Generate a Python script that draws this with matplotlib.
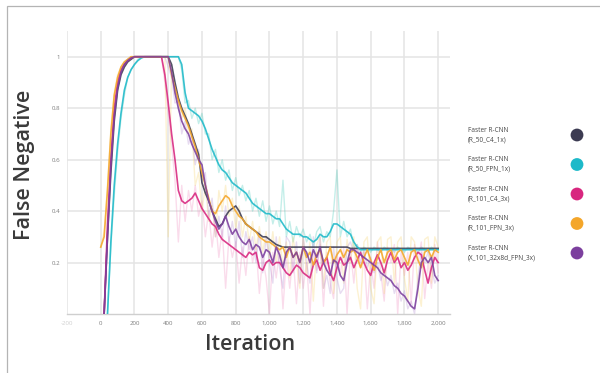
import numpy as np
import matplotlib.pyplot as plt
from matplotlib.patches import Rectangle

plt.rcParams['font.family'] = ['Open Sans', 'DejaVu Sans']

nan = np.nan

# iteration grid shared by every run
iterations = np.arange(0, 2001, 20)

# smoothed false-negative curves
r50_c4 = [nan, 0.0, 0.3, 0.55, 0.75, 0.87, 0.93, 0.96, 0.98, 0.99,
          1, 1, 1, 1, 1, 1, 1, 1, 1, 1,
          1.0, 0.97, 0.9, 0.84, 0.8, 0.77, 0.74, 0.7, 0.66, 0.62,
          0.51, 0.47, 0.44, 0.4, 0.37, 0.34, 0.35, 0.38, 0.4, 0.41,
          0.42, 0.4, 0.37, 0.35, 0.34, 0.33, 0.32, 0.31, 0.3, 0.3,
          0.29, 0.28, 0.27, 0.265, 0.26, 0.26, 0.26, 0.26, 0.26, 0.26,
          0.26, 0.26, 0.26, 0.26, 0.26, 0.26, 0.26, 0.26, 0.26, 0.26,
          0.26, 0.26, 0.26, 0.26, 0.255, 0.255, 0.255, 0.255, 0.255, 0.255,
          0.255, 0.255, 0.255, 0.255, 0.255, 0.255, 0.255, 0.255, 0.255, 0.255,
          0.255, 0.255, 0.255, 0.255, 0.255, 0.255, 0.255, 0.255, 0.255, 0.255,
          0.255]
r50_fpn = [nan, nan, 0.0, 0.28, 0.5, 0.66, 0.78, 0.87, 0.92, 0.95,
           0.97, 0.985, 0.995, 1, 1, 1, 1, 1, 1, 1,
           1, 1, 1, 1, 0.97, 0.86, 0.8, 0.79, 0.78, 0.77,
           0.75, 0.72, 0.68, 0.64, 0.61, 0.58, 0.56, 0.55, 0.53, 0.51,
           0.5, 0.49, 0.48, 0.47, 0.45, 0.43, 0.42, 0.41, 0.4, 0.39,
           0.39, 0.38, 0.37, 0.37, 0.35, 0.33, 0.32, 0.31, 0.31, 0.31,
           0.3, 0.3, 0.29, 0.28, 0.29, 0.31, 0.3, 0.3, 0.32, 0.35,
           0.35, 0.34, 0.33, 0.32, 0.31, 0.28, 0.26, 0.25, 0.25, 0.25,
           0.25, 0.25, 0.25, 0.25, 0.25, 0.25, 0.25, 0.25, 0.25, 0.25,
           0.25, 0.25, 0.25, 0.25, 0.25, 0.25, 0.25, 0.25, 0.25, 0.25,
           0.25]
r101_c4 = [nan, 0.0, 0.35, 0.6, 0.8, 0.9, 0.95, 0.97, 0.985, 0.995,
           1, 1, 1, 1, 1, 1, 1, 1, 1, 0.93,
           0.82, 0.7, 0.6, 0.48, 0.44, 0.43, 0.44, 0.45, 0.47, 0.44,
           0.41, 0.39, 0.37, 0.35, 0.34, 0.31, 0.29, 0.28, 0.27, 0.26,
           0.25, 0.24, 0.23, 0.22, 0.24, 0.23, 0.24, 0.18, 0.17, 0.2,
           0.21, 0.19, 0.2, 0.2, 0.18, 0.16, 0.15, 0.17, 0.19, 0.18,
           0.16, 0.15, 0.14, 0.19, 0.21, 0.17, 0.2, 0.22, 0.16, 0.13,
           0.18, 0.22, 0.19, 0.2, 0.22, 0.18, 0.21, 0.24, 0.2, 0.17,
           0.15, 0.2, 0.23, 0.2, 0.16, 0.21, 0.24, 0.2, 0.22, 0.18,
           0.2, 0.17, 0.19, 0.22, 0.24, 0.23, 0.17, 0.12, 0.18, 0.22,
           0.2]
r101_fpn = [0.26, 0.3, 0.48, 0.7, 0.85, 0.92, 0.96, 0.98, 0.99, 1.0,
            1, 1, 1, 1, 1, 1, 1, 1, 1, 1,
            1.0, 0.93, 0.88, 0.83, 0.79, 0.76, 0.73, 0.69, 0.65, 0.6,
            0.55, 0.5, 0.45, 0.4, 0.39, 0.42, 0.44, 0.46, 0.45, 0.42,
            0.4, 0.38, 0.37, 0.35, 0.34, 0.33, 0.32, 0.3, 0.29, 0.28,
            0.28, 0.27, 0.26, 0.25, 0.26, 0.22, 0.26, 0.22, 0.24, 0.2,
            0.26, 0.22, 0.24, 0.19, 0.23, 0.25, 0.2, 0.22, 0.26, 0.2,
            0.23, 0.25, 0.22, 0.25, 0.24, 0.25, 0.22, 0.18, 0.22, 0.25,
            0.21, 0.17, 0.22, 0.25, 0.2, 0.24, 0.25, 0.21, 0.24, 0.25,
            0.22, 0.19, 0.24, 0.25, 0.21, 0.18, 0.24, 0.25, 0.22, 0.25,
            0.24]
x101_fpn = [nan, 0.0, 0.3, 0.58, 0.77, 0.88, 0.94, 0.97, 0.985, 0.995,
            1, 1, 1, 1, 1, 1, 1, 1, 1, 1,
            1.0, 0.94, 0.86, 0.8, 0.75, 0.72, 0.7, 0.66, 0.63, 0.6,
            0.58, 0.5, 0.44, 0.4, 0.36, 0.33, 0.35, 0.38, 0.34, 0.31,
            0.33, 0.3, 0.28, 0.27, 0.29, 0.25, 0.27, 0.26, 0.22, 0.25,
            0.24, 0.2, 0.26, 0.23, 0.18, 0.24, 0.26, 0.22, 0.24, 0.2,
            0.26, 0.24, 0.2, 0.25, 0.22, 0.26, 0.2, 0.17, 0.15, 0.21,
            0.2, 0.15, 0.13, 0.2, 0.25, 0.25, 0.24, 0.23, 0.22, 0.21,
            0.2, 0.19, 0.18, 0.16, 0.15, 0.14, 0.13, 0.11, 0.1, 0.08,
            0.07, 0.05, 0.03, 0.02, 0.1, 0.2, 0.22, 0.2, 0.22, 0.15,
            0.13]

# raw (unsmoothed) values, drawn faint behind the smoothed curves
r50_fpn_raw = [nan, nan, 0.0, 0.26, 0.46, 0.63, 0.76, 0.85, 0.92, 0.95,
               0.97, 0.99, 1, 1, 1, 1, 1, 1, 1, 1,
               1, 1, 1, 1, 0.95, 0.82, 0.83, 0.76, 0.8, 0.74,
               0.78, 0.7, 0.7, 0.6, 0.64, 0.55, 0.6, 0.52, 0.56, 0.48,
               0.53, 0.46, 0.5, 0.44, 0.48, 0.4, 0.45, 0.38, 0.44, 0.36,
               0.42, 0.35, 0.4, 0.34, 0.52, 0.3, 0.36, 0.28, 0.34, 0.3,
               0.33, 0.28, 0.31, 0.26, 0.32, 0.34, 0.28, 0.32, 0.3, 0.4,
               0.56, 0.3, 0.36, 0.3, 0.33, 0.26, 0.27, 0.24, 0.26, 0.25,
               0.24, 0.26, 0.25, 0.24, 0.26, 0.25, 0.25, 0.24, 0.26, 0.25,
               0.24, 0.26, 0.25, 0.25, 0.24, 0.26, 0.25, 0.24, 0.26, 0.25,
               0.25]
r101_c4_raw = [nan, 0.0, 0.33, 0.62, 0.78, 0.91, 0.94, 0.97, 0.99, 1.0,
               1, 1, 1, 1, 1, 1, 1, 1, 1, 0.9,
               0.78, 0.66, 0.52, 0.28, 0.5, 0.36, 0.48, 0.4, 0.5, 0.38,
               0.44, 0.3, 0.4, 0.26, 0.37, 0.22, 0.33, 0.1, 0.3, 0.22,
               0.28, 0.12, 0.26, 0.15, 0.3, 0.2, 0.27, 0.08, 0.22, 0.14,
               0.0, 0.24, 0.14, 0.25, 0.02, 0.22, 0.1, 0.23, 0.04, 0.24,
               0.1, 0.2, 0.0, 0.25, 0.17, 0.27, 0.03, 0.24, 0.12, 0.06,
               0.24, 0.15, 0.26, 0.0, 0.25, 0.12, 0.27, 0.18, 0.24, 0.02,
               0.2, 0.1, 0.28, 0.16, 0.05, 0.26, 0.2, 0.27, 0.0, 0.24,
               0.15, 0.24, 0.04, 0.27, 0.2, 0.28, 0.06, 0.2, 0.1, 0.27,
               0.16]
r101_fpn_raw = [0.26, 0.32, 0.5, 0.72, 0.86, 0.93, 0.96, 0.98, 0.99, 1.0,
                1, 1, 1, 1, 1, 1, 1, 1, 1, 1,
                0.3, 0.95, 0.86, 0.82, 0.76, 0.8, 0.7, 0.72, 0.5, 0.55,
                0.4, 0.5, 0.36, 0.42, 0.3, 0.48, 0.4, 0.5, 0.38, 0.45,
                0.33, 0.42, 0.3, 0.38, 0.28, 0.36, 0.25, 0.34, 0.24, 0.32,
                0.22, 0.32, 0.2, 0.3, 0.18, 0.28, 0.14, 0.3, 0.2, 0.1,
                0.3, 0.15, 0.28, 0.05, 0.27, 0.3, 0.1, 0.28, 0.3, 0.08,
                0.28, 0.3, 0.12, 0.29, 0.2, 0.3, 0.1, 0.02, 0.28, 0.3,
                0.1, 0.04, 0.28, 0.3, 0.08, 0.29, 0.3, 0.12, 0.28, 0.3,
                0.14, 0.05, 0.3, 0.28, 0.1, 0.03, 0.29, 0.3, 0.12, 0.3,
                0.26]
x101_fpn_raw = [nan, 0.0, 0.32, 0.6, 0.78, 0.89, 0.94, 0.97, 0.99, 1.0,
                1, 1, 1, 1, 1, 1, 1, 1, 1, 1,
                0.96, 0.92, 0.82, 0.83, 0.7, 0.75, 0.66, 0.7, 0.58, 0.64,
                0.52, 0.55, 0.38, 0.45, 0.3, 0.38, 0.3, 0.42, 0.28, 0.36,
                0.26, 0.36, 0.22, 0.32, 0.25, 0.3, 0.2, 0.32, 0.16, 0.3,
                0.2, 0.12, 0.3, 0.18, 0.1, 0.3, 0.28, 0.16, 0.28, 0.12,
                0.3, 0.2, 0.12, 0.3, 0.16, 0.3, 0.1, 0.15, 0.08, 0.26,
                0.14, 0.08, 0.1, 0.26, 0.28, 0.24, 0.26, 0.2, 0.25, 0.18,
                0.22, 0.16, 0.2, 0.13, 0.17, 0.11, 0.15, 0.08, 0.12, 0.05,
                0.09, 0.02, 0.05, 0.0, 0.14, 0.24, 0.2, 0.24, 0.18, 0.12,
                0.15]

model_names = ['(R_50_C4_1x)', '(R_50_FPN_1x)', '(R_101_C4_3x)',
               '(R_101_FPN_3x)', '(X_101_32x8d_FPN_3x)']
colors = ['#3c3b52', '#1db9c9', '#d8267f', '#f4a62a', '#7c3f9e']
curves = [r50_c4, r50_fpn, r101_c4, r101_fpn, x101_fpn]
raw_curves = [None, r50_fpn_raw, r101_c4_raw, r101_fpn_raw, x101_fpn_raw]
raw_colors = ['#3c3b52', '#3ec9b8', '#f08cc0', '#f7d36a', '#b08ad0']

xticks = list(range(-200, 2001, 200))
xtick_labels = ['-200', '0', '200', '400', '600', '800', '1,000', '1,200',
                '1,400', '1,600', '1,800', '2,000']
yticks = [0.2, 0.4, 0.6, 0.8, 1.0]
ytick_labels = ['0.2', '0.4', '0.6', '0.8', '1']

W, H = 600, 373
fig = plt.figure(figsize=(W / 100, H / 100), dpi=100)
fig.patch.set_facecolor('white')

# outer frame (only top and left edges fall inside the picture)
fig.add_artist(Rectangle((7 / W, -0.1), 1.2, 1 - 6 / H + 0.1,
                         transform=fig.transFigure, fill=False,
                         ec='#b4b4b4', lw=0.9))

ax = fig.add_axes([67 / W, 1 - 314 / H, (450 - 67) / W, (314 - 31) / H])

for raw, c in zip(raw_curves, raw_colors):
    if raw is None:
        continue
    ax.plot(iterations, raw, color=c, lw=1.0, alpha=0.3, zorder=2)

for vals, c in zip(curves, colors):
    ax.plot(iterations, vals, color=c, lw=1.2, alpha=0.88, zorder=3)

ax.set_xlim(-200, 2070)
ax.set_ylim(0, 1.1)
ax.set_xticks(xticks)
ax.set_xticklabels(xtick_labels)
ax.set_yticks(yticks)
ax.set_yticklabels(ytick_labels)
ax.tick_params(length=0, labelsize=4.4, labelcolor='#7e7e7e', pad=5)
ax.get_xticklabels()[0].set_color('#d0d0d0')
ax.grid(True, color='#e4e4e4', lw=1.1)
ax.set_axisbelow(True)
for s in ['top', 'right', 'left']:
    ax.spines[s].set_visible(False)
ax.spines['bottom'].set_color('#cfcfcf')
ax.spines['bottom'].set_linewidth(1.0)

fig.text(25 / W, 1 - 165 / H, 'False Negative', rotation=90, ha='center',
         va='center', fontsize=15.5, fontweight='semibold', color='#3a3a3a')
fig.text(250 / W, 1 - 345 / H, 'Iteration', ha='center', va='center',
         fontsize=15.5, fontweight='semibold', color='#3a3a3a')

# legend: label on the left, coloured dot on the right
lax = fig.add_axes([0, 0, 1, 1])
lax.set_xlim(0, W)
lax.set_ylim(H, 0)
lax.axis('off')
for i, (name, c) in enumerate(zip(model_names, colors)):
    y = 135 + i * 29.5
    lax.text(468, y, 'Faster R-CNN\n' + name, fontsize=4.7, va='center',
             ha='left', color='#474747', linespacing=1.45)
    lax.scatter([577], [y], s=85, color=c, edgecolors='none')

fig.savefig('out.png', dpi=100)
